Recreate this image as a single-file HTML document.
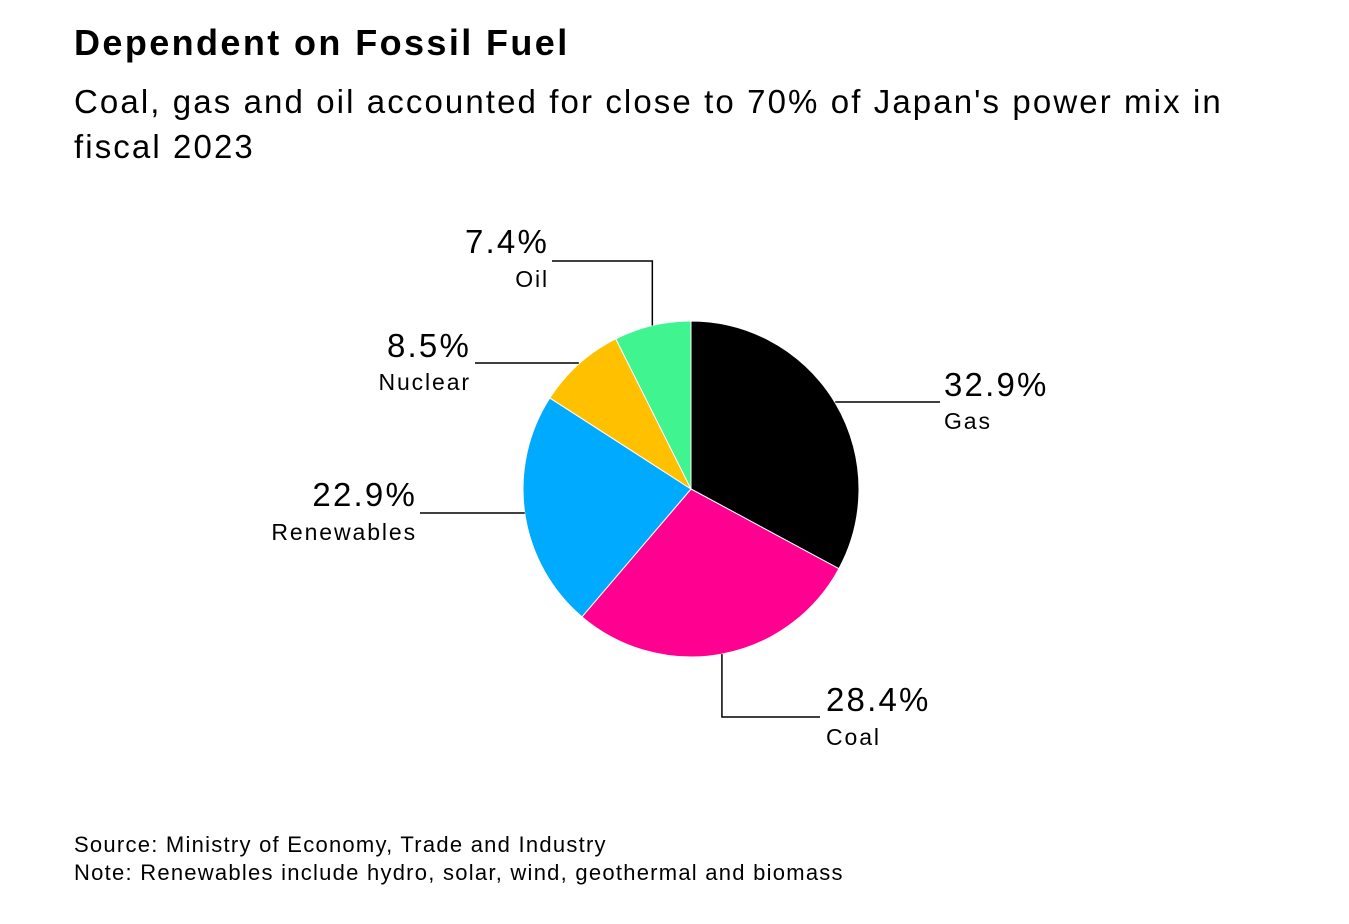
<!DOCTYPE html>
<html><head><meta charset="utf-8"><style>
body{margin:0;background:#fff;width:1349px;height:924px;overflow:hidden;font-family:"Liberation Sans",sans-serif;}
.t{position:absolute;left:74px;top:22px;font-size:36px;font-weight:bold;color:#000;letter-spacing:2.4px}
.s{position:absolute;left:74px;top:79px;font-size:33px;line-height:45px;color:#000;width:1270px;letter-spacing:2.1px}
.f{position:absolute;left:74px;top:831px;font-size:22px;line-height:28px;color:#000;letter-spacing:1.25px}
</style></head><body>
<div class="t">Dependent on Fossil Fuel</div>
<div class="s">Coal, gas and oil accounted for close to 70% of Japan's power mix in<br>fiscal 2023</div>
<svg width="1349" height="924" style="position:absolute;left:0;top:0">
<g id="slices"></g><g id="labels" font-family="Liberation Sans, sans-serif"></g>
</svg>
<div class="f">Source: Ministry of Economy, Trade and Industry<br>Note: Renewables include hydro, solar, wind, geothermal and biomass</div>
<script>
const categories=["Gas","Coal","Renewables","Nuclear","Oil"];
const values=[32.9,28.4,22.9,8.5,7.4];
const colors=["#000000","#ff0090","#00aaff","#ffc000","#40f590"];
const cx=691,cy=489,r=168;
const NS="http://www.w3.org/2000/svg";
const total=values.reduce((a,b)=>a+b,0);
const g=document.getElementById('slices');
const L=document.getElementById('labels');
function pt(a,rr){return [cx+rr*Math.sin(a),cy-rr*Math.cos(a)];}
let acc=0;
const mids=[];
values.forEach((v,i)=>{
 const a0=acc/total*2*Math.PI;acc+=v;const a1=acc/total*2*Math.PI;
 const p0=pt(a0,r),p1=pt(a1,r);
 const p=document.createElementNS(NS,'path');
 p.setAttribute('d',`M${cx},${cy}L${p0[0]},${p0[1]}A${r},${r} 0 ${a1-a0>Math.PI?1:0} 1 ${p1[0]},${p1[1]}Z`);
 p.setAttribute('fill',colors[i]);p.setAttribute('stroke','#fff');p.setAttribute('stroke-width','1');
 
 
 g.appendChild(p);
 mids.push((a0+a1)/2);
});
const lay=[
 {ex:940,ly:402,tx:944,an:'start',py:396,cy2:429,vert:false},
 {ex:820,ly:717,tx:826,an:'start',py:711,cy2:745,vert:true},
 {ex:420,ly:513,tx:417,an:'end',py:506,cy2:540,vert:false},
 {ex:475,ly:363,tx:471,an:'end',py:357,cy2:390,vert:false},
 {ex:552,ly:261,tx:549,an:'end',py:253,cy2:287,vert:true}
];
values.forEach((v,i)=>{
 const o=lay[i];const e=pt(mids[i],r);
 const pl=document.createElementNS(NS,'polyline');
 let pts=o.vert?`${e[0]},${e[1]} ${e[0]},${o.ly} ${o.ex},${o.ly}`:`${e[0]},${o.ly} ${o.ex},${o.ly}`;
 pl.setAttribute('points',pts);pl.setAttribute('fill','none');pl.setAttribute('stroke','#000');pl.setAttribute('stroke-width','1.5');
 
 
 L.appendChild(pl);
 const t1=document.createElementNS(NS,'text');
 t1.setAttribute('x',o.tx);t1.setAttribute('y',o.py);t1.setAttribute('text-anchor',o.an);t1.setAttribute('font-size','33');
 t1.setAttribute('letter-spacing','2.2');
 t1.textContent=v.toFixed(1)+'%';
 
 
 L.appendChild(t1);
 const t2=document.createElementNS(NS,'text');
 t2.setAttribute('x',o.tx);t2.setAttribute('y',o.cy2);t2.setAttribute('text-anchor',o.an);t2.setAttribute('font-size','23');
 t2.setAttribute('letter-spacing','1.9');
 t2.textContent=categories[i];
 
 
 L.appendChild(t2);
});
</script>
</body></html>
